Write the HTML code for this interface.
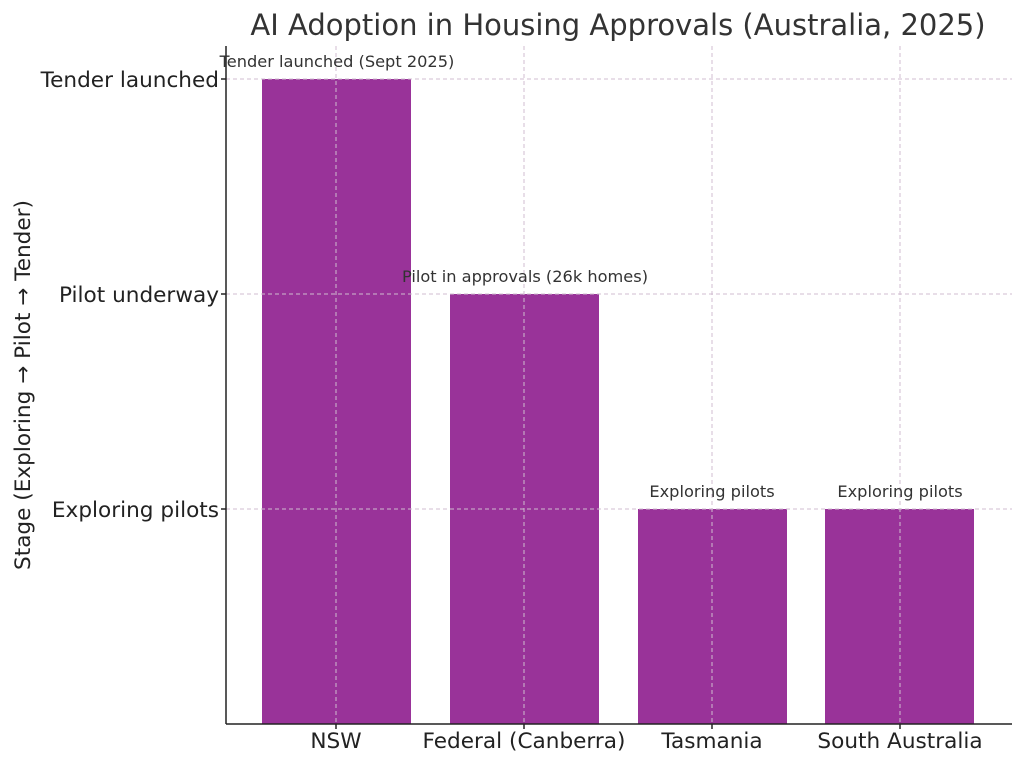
<!DOCTYPE html>
<html><head><meta charset="utf-8"><style>
body{margin:0;background:#fff}
svg{display:block;font-family:"DejaVu Sans","Liberation Sans",sans-serif}
</style></head><body>
<svg width="1024" height="765" viewBox="0 0 1024 765" xmlns="http://www.w3.org/2000/svg">
<rect width="1024" height="765" fill="#fff"/>
<text x="618" y="35" font-size="29" fill="#333" text-anchor="middle">AI Adoption in Housing Approvals (Australia, 2025)</text>
<g fill="#993399">
<rect x="262" y="79" width="149" height="645"/>
<rect x="450" y="294" width="149" height="430"/>
<rect x="638" y="509" width="149" height="215"/>
<rect x="825" y="509" width="149" height="215"/>
</g>
<g stroke="#d0bcd0" stroke-width="1" stroke-dasharray="4,3" fill="none">
<line x1="226" y1="79" x2="1012" y2="79"/>
<line x1="226" y1="294" x2="1012" y2="294"/>
<line x1="226" y1="509" x2="1012" y2="509"/>
<line x1="336" y1="46" x2="336" y2="724"/>
<line x1="524" y1="46" x2="524" y2="724"/>
<line x1="712" y1="46" x2="712" y2="724"/>
<line x1="900" y1="46" x2="900" y2="724"/>
</g>
<g stroke="#222" stroke-width="1.5">
<line x1="226" y1="46" x2="226" y2="724"/>
<line x1="226" y1="724" x2="1012" y2="724"/>
<line x1="221" y1="79" x2="226" y2="79"/>
<line x1="221" y1="294" x2="226" y2="294"/>
<line x1="221" y1="509" x2="226" y2="509"/>
<line x1="336" y1="724" x2="336" y2="729"/>
<line x1="524" y1="724" x2="524" y2="729"/>
<line x1="712" y1="724" x2="712" y2="729"/>
<line x1="900" y1="724" x2="900" y2="729"/>
</g>
<g font-size="21.6" fill="#222" text-anchor="end">
<text x="219" y="87">Tender launched</text>
<text x="219" y="302">Pilot underway</text>
<text x="219" y="517">Exploring pilots</text>
</g>
<g font-size="21.6" fill="#222" text-anchor="middle">
<text x="336" y="748">NSW</text>
<text x="524" y="748">Federal (Canberra)</text>
<text x="712" y="748">Tasmania</text>
<text x="900" y="748">South Australia</text>
</g>
<text transform="translate(30,385) rotate(-90)" font-size="21.6" fill="#222" text-anchor="middle">Stage (Exploring → Pilot → Tender)</text>
<g font-size="16.2" fill="#333" text-anchor="middle">
<text x="337" y="67">Tender launched (Sept 2025)</text>
<text x="525" y="282">Pilot in approvals (26k homes)</text>
<text x="712" y="497">Exploring pilots</text>
<text x="900" y="497">Exploring pilots</text>
</g>
</svg>
</body></html>
